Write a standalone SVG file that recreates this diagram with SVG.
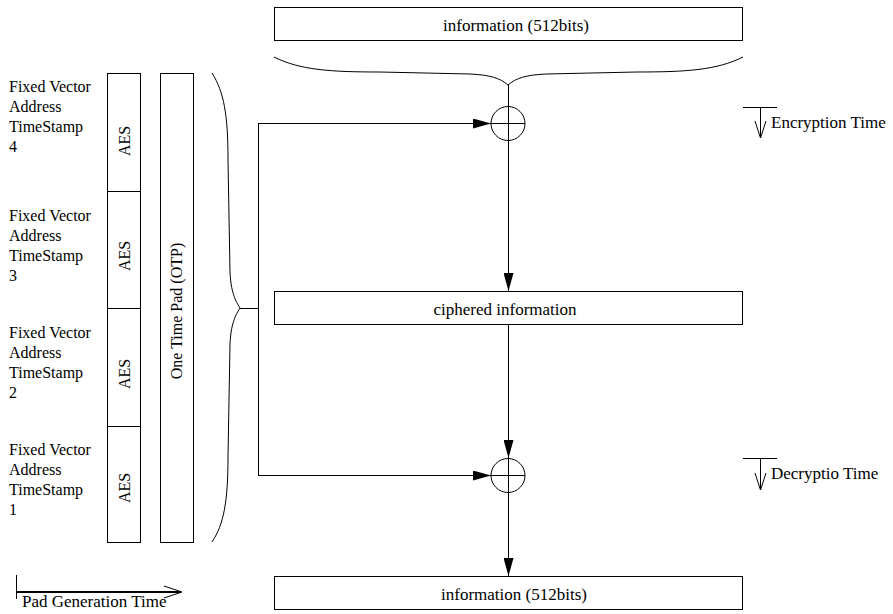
<svg xmlns="http://www.w3.org/2000/svg" width="893" height="614" viewBox="0 0 893 614">
<style>
.s{fill:none;stroke:#000;stroke-width:1}
.box{fill:#fff;stroke:#000;stroke-width:1}
text{font-family:"Liberation Serif","Times New Roman",serif;fill:#000}
.t{font-size:16px}
.tl{font-size:17px}
.m{text-anchor:middle}
</style>
<defs>
<marker id="ah" viewBox="0 0 18 10" refX="18" refY="5" markerWidth="18" markerHeight="10" markerUnits="userSpaceOnUse" orient="auto">
<path d="M0,0 L18,5 L0,10 Z" fill="#000"/>
</marker>
</defs>
<rect width="893" height="614" fill="#fff"/>

<g id="info-top">
<rect class="box" x="274.5" y="7.5" width="468" height="33"/>
<text class="tl m" x="516" y="31">information (512bits)</text>
</g>

<g id="brace-top">
<path class="s" d="M274,57 C300,70 330,72 380,72 L470,74 C490,75 500,78 508,85 C516,78 526,75 546,74 L637,72 C687,72 717,70 743,57"/>
</g>

<g id="labels">
<text class="t" x="9" y="92">Fixed Vector</text>
<text class="t" x="9" y="112">Address</text>
<text class="t" x="9" y="132">TimeStamp</text>
<text class="t" x="9" y="152">4</text>
<text class="t" x="9" y="221">Fixed Vector</text>
<text class="t" x="9" y="241">Address</text>
<text class="t" x="9" y="261">TimeStamp</text>
<text class="t" x="9" y="281">3</text>
<text class="t" x="9" y="338">Fixed Vector</text>
<text class="t" x="9" y="358">Address</text>
<text class="t" x="9" y="378">TimeStamp</text>
<text class="t" x="9" y="398">2</text>
<text class="t" x="9" y="455">Fixed Vector</text>
<text class="t" x="9" y="475">Address</text>
<text class="t" x="9" y="495">TimeStamp</text>
<text class="t" x="9" y="515">1</text>
</g>

<g id="aes">
<rect class="box" x="107.5" y="73.5" width="33" height="469"/>
<line class="s" x1="107.5" y1="191.5" x2="140.5" y2="191.5"/>
<line class="s" x1="107.5" y1="308.5" x2="140.5" y2="308.5"/>
<line class="s" x1="107.5" y1="426.5" x2="140.5" y2="426.5"/>
<text class="t m" transform="translate(130,141) rotate(-90)">AES</text>
<text class="t m" transform="translate(130,256) rotate(-90)">AES</text>
<text class="t m" transform="translate(130,374) rotate(-90)">AES</text>
<text class="t m" transform="translate(130,488) rotate(-90)">AES</text>
</g>

<g id="otp">
<rect class="box" x="160.5" y="73.5" width="33" height="469"/>
<text class="t m" transform="translate(182,311) rotate(-90)">One Time Pad (OTP)</text>
</g>

<g id="brace-left">
<path class="s" d="M212,73 C224,92 228,115 228,160 L230,272 C231,292 235,300 240,308 C235,316 231,324 230,344 L228,456 C228,501 224,524 212,542"/>
</g>

<g id="xor1">
<circle class="s" cx="508" cy="123.5" r="17"/>
<line class="s" x1="491" y1="123.5" x2="525" y2="123.5"/>
</g>

<g id="ciphered">
<rect class="box" x="274.5" y="291.5" width="468" height="33"/>
<text class="tl m" x="505" y="315">ciphered information</text>
</g>

<g id="xor2">
<circle class="s" cx="508" cy="475.5" r="17"/>
<line class="s" x1="491" y1="475.5" x2="525" y2="475.5"/>
</g>

<g id="info-bottom">
<rect class="box" x="274.5" y="576.5" width="468" height="33"/>
<text class="tl m" x="514" y="600">information (512bits)</text>
</g>

<g id="connectors">
<line class="s" x1="508.5" y1="85" x2="508.5" y2="291" marker-end="url(#ah)"/>
<line class="s" x1="508.5" y1="325" x2="508.5" y2="458" marker-end="url(#ah)"/>
<line class="s" x1="508.5" y1="458" x2="508.5" y2="492"/>
<line class="s" x1="508.5" y1="492" x2="508.5" y2="576" marker-end="url(#ah)"/>
<line class="s" x1="240" y1="308.5" x2="258.5" y2="308.5"/>
<line class="s" x1="258.5" y1="123.5" x2="258.5" y2="475.5"/>
<line class="s" x1="258" y1="123.5" x2="491" y2="123.5" marker-end="url(#ah)"/>
<line class="s" x1="258" y1="475.5" x2="491" y2="475.5" marker-end="url(#ah)"/>
</g>

<g id="encryption-time">
<line class="s" x1="743" y1="107.5" x2="777" y2="107.5"/>
<line class="s" x1="760.5" y1="107.5" x2="760.5" y2="138"/>
<path class="s" d="M755,121 L760.5,138 L766,121"/>
<text class="tl" x="771" y="128">Encryption Time</text>
</g>

<g id="decryption-time">
<line class="s" x1="743" y1="458.5" x2="777" y2="458.5"/>
<line class="s" x1="760.5" y1="458.5" x2="760.5" y2="490"/>
<path class="s" d="M755,473 L760.5,490 L766,473"/>
<text class="tl" x="771" y="479">Decryptio Time</text>
</g>

<g id="pad-generation-time">
<line class="s" x1="16.5" y1="575" x2="16.5" y2="599"/>
<line x1="16" y1="592" x2="180" y2="592" stroke="#000" stroke-width="2"/>
<path class="s" d="M164,586 L182,592 L164,598"/>
<text class="tl" x="22" y="607">Pad Generation Time</text>
</g>
</svg>
